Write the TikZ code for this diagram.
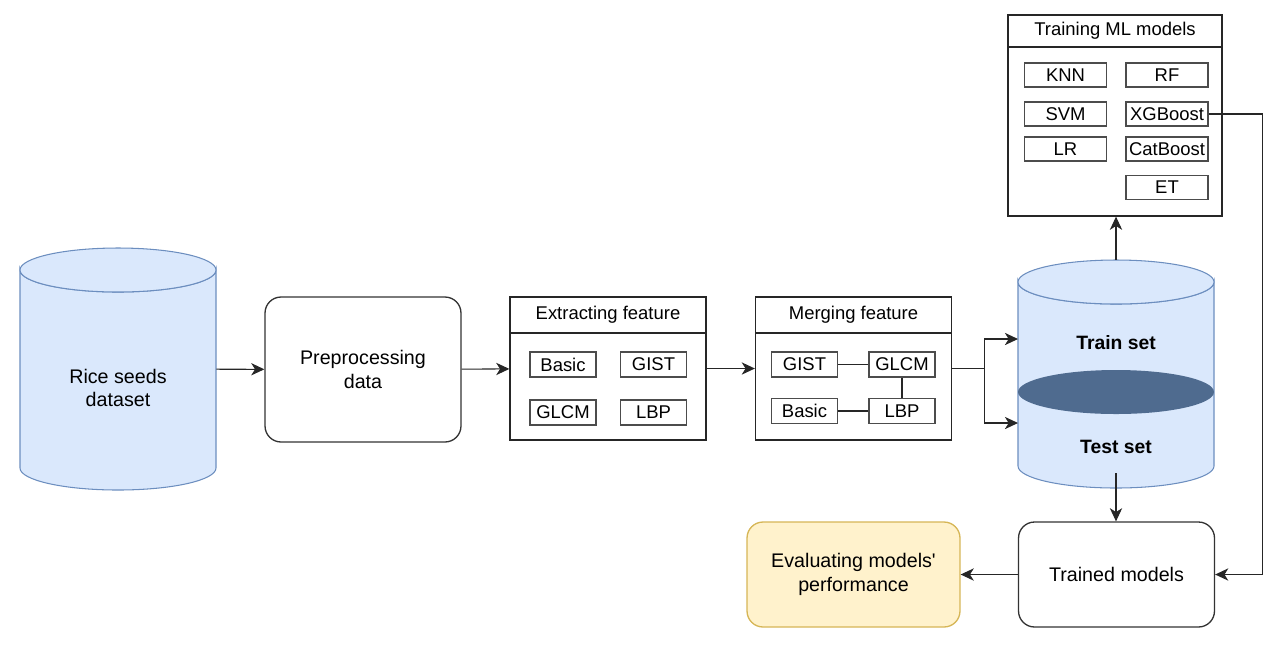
\documentclass[tikz,border=0pt]{standalone}
\usepackage{fontspec}
\setmainfont{Liberation Sans}
\usetikzlibrary{arrows.meta, positioning}

\definecolor{dbfill}{HTML}{DAE8FC}
\definecolor{dbline}{HTML}{6C8EBF}
\definecolor{dbsplit}{HTML}{4F6B8F}
\definecolor{evalfill}{HTML}{FFF2CC}
\definecolor{evalline}{HTML}{D6B656}

\begin{document}
\begin{tikzpicture}[
  x=0.02cm, y=-0.02cm,
  proc/.style={rectangle, draw=black!80, line width=0.75pt, rounded corners=0.32cm, minimum width=3.92cm, minimum height=2.1cm, align=center, font=\fontsize{11.2}{13.5}\selectfont},
  group/.style={rectangle, draw=black!85, line width=0.75pt, minimum width=3.92cm, minimum height=2.86cm},
  grouptitle/.style={rectangle, draw=black!85, line width=0.75pt, minimum width=3.92cm, minimum height=0.72cm, inner sep=0pt, font=\fontsize{10.5}{12}\selectfont},
  feat/.style={rectangle, draw=black!70, line width=0.6pt, minimum width=1.32cm, minimum height=0.5cm, inner sep=0pt, font=\fontsize{10.5}{12}\selectfont},
  model/.style={feat, minimum width=1.64cm, minimum height=0.48cm},
  dbbody/.style={fill=dbfill, draw=dbline, line width=0.6pt},
  dblabel/.style={font=\bfseries\fontsize{11}{13}\selectfont},
  arrow/.style={-{Stealth[length=7.5pt, width=7pt, inset=2.2pt]}, black!85, line width=0.6pt},
  link/.style={black!85, line width=0.6pt}
]
  \useasboundingbox (0,0) rectangle (1287,654);

  % Rice seeds dataset
  \path[dbbody] (20,270) -- (20,468) arc[start angle=180, end angle=0, x radius=98, y radius=22]
    -- (216,270) arc[start angle=0, end angle=180, x radius=98, y radius=22] -- cycle;
  \draw[dbbody] (118,270) ellipse[x radius=98, y radius=22];
  \node[minimum width=3.92cm, minimum height=4.84cm] (rice) at (118,369) {};
  \node[align=center, font=\fontsize{11.2}{13.5}\selectfont] (riceL) at (118,388) {Rice seeds\\dataset};

  % Preprocessing
  \node[proc, minimum height=2.9cm] (prep) at (363,369.5) {Preprocessing\\data};

  % Extracting feature
  \node[group] (extract) at (608,368.5) {};
  \node[grouptitle, below=0pt of extract.north] (extractT) {Extracting feature};
  \node[feat] (exBasic) at (563,364.5) {Basic};
  \node[feat] (exGist) at (653.5,364.5) {GIST};
  \node[feat] (exGlcm) at (563,412.5) {GLCM};
  \node[feat] (exLbp) at (653.5,412.5) {LBP};

  % Merging feature
  \node[group] (merge) at (853.5,368.5) {};
  \node[grouptitle, below=0pt of merge.north] (mergeT) {Merging feature};
  \node[feat] (mgGist) at (804.5,364.5) {GIST};
  \node[feat] (mgGlcm) at (902,364.5) {GLCM};
  \node[feat] (mgBasic) at (804.5,411) {Basic};
  \node[feat] (mgLbp) at (902,411) {LBP};
  \draw[link] (mgGist) -- (mgGlcm);
  \draw[link] (mgGlcm) -- (mgLbp);
  \draw[link] (mgBasic) -- (mgLbp);

  % Train / test split
  \path[dbbody] (1018,282) -- (1018,466) arc[start angle=180, end angle=0, x radius=98, y radius=22]
    -- (1214,282) arc[start angle=0, end angle=180, x radius=98, y radius=22] -- cycle;
  \draw[dbbody] (1116,282) ellipse[x radius=98, y radius=22];
  \fill[dbsplit] (1116,392) ellipse[x radius=98, y radius=22];
  \node[minimum width=3.92cm, minimum height=4.56cm] (data) at (1116,374) {};
  \node[dblabel] (trainL) at (1116,343) {Train set};
  \node[dblabel] (testL) at (1116,447) {Test set};
  \coordinate (trainIn) at (1018,339);
  \coordinate (testIn) at (1018,423);
  \coordinate (testOut) at (1116,473);

  % Training ML models
  \node[group, minimum width=4.28cm, minimum height=4.02cm] (train) at (1115,115.5) {};
  \node[grouptitle, minimum width=4.28cm, minimum height=0.64cm, below=0pt of train.north] (trainT) {Training ML models};
  \node[model] (knn) at (1065.5,75) {KNN};
  \node[model] (rf) at (1167,75) {RF};
  \node[model] (svm) at (1065.5,114) {SVM};
  \node[model] (xgb) at (1167,114) {XGBoost};
  \node[model] (lr) at (1065.5,149) {LR};
  \node[model] (cat) at (1167,149) {CatBoost};
  \node[model] (et) at (1167,187.5) {ET};

  % Results
  \node[proc] (trained) at (1116.5,574.5) {Trained models};
  \node[proc, fill=evalfill, draw=evalline, minimum width=4.26cm] (eval) at (853.5,574.5) {Evaluating models\textquotesingle\\performance};

  \draw[arrow] (rice) -- (prep);
  \draw[arrow] (prep) -- (extract);
  \draw[arrow] (extract) -- (merge);
  \draw[link] (merge.east) -- ++(32,0) coordinate (fork);
  \draw[arrow] (fork) |- (trainIn);
  \draw[arrow] (fork) |- (testIn);
  \draw[arrow] (data.north) -- (data.north |- train.south);
  \draw[arrow] (testOut) -- (testOut |- trained.north);
  \draw[arrow] (xgb.east) -- ++(54,0) |- (trained.east);
  \draw[arrow] (trained) -- (eval);
\end{tikzpicture}
\end{document}
